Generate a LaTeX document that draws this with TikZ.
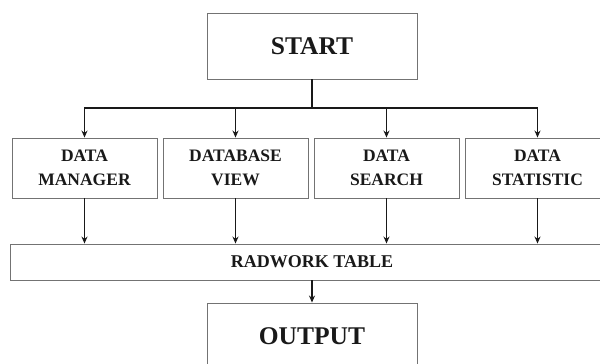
\documentclass[tikz,border=0pt]{standalone}
\usepackage{fontspec}
\setmainfont{Liberation Serif}
\usetikzlibrary{arrows.meta}
\begin{document}
\begin{tikzpicture}[x=1pt,y=-1pt,
  box/.style={draw=black!55, line width=0.9pt, inner sep=0pt, align=center, text=black!90},
  bigtext/.style={font=\bfseries\fontsize{25.5}{28}\selectfont},
  midtext/.style={font=\bfseries\fontsize{17.5}{24}\selectfont},
  midbox/.style={box, midtext, minimum width=145pt, minimum height=60pt},
  bigbox/.style={box, bigtext, minimum width=210pt, minimum height=66pt},
  link/.style={draw=black!90, line width=1.7pt},
  arr/.style={link, -{Stealth[length=7pt,width=6pt]}}]
\useasboundingbox (0,0) rectangle (600,364);
\clip (0,0) rectangle (600,364);
\node[bigbox] (start) at (312,46) {START};
\coordinate (bus) at (312,108);
\node[midbox] (b1) at (84.5,168) {DATA\\MANAGER};
\node[midbox] (b2) at (235.5,168) {DATABASE\\VIEW};
\node[midbox] (b3) at (386.5,168) {DATA\\SEARCH};
\node[midbox] (b4) at (537.5,168) {DATA\\STATISTIC};
\node[box, font=\bfseries\fontsize{18}{20}\selectfont, minimum width=604pt, minimum height=36pt] (rad) at (312,262) {RADWORK TABLE};
\node[bigbox] (out) at (312,336) {OUTPUT};
\draw[link] (start.south) -- (bus);
\foreach \b in {b1,b2,b3,b4}{
  \draw[arr] (bus) -| (\b.north);
  \draw[arr] (\b.south) -- (\b.south |- rad.north);
}
\draw[arr] (rad.south) -- (out.north);
\end{tikzpicture}
\end{document}
